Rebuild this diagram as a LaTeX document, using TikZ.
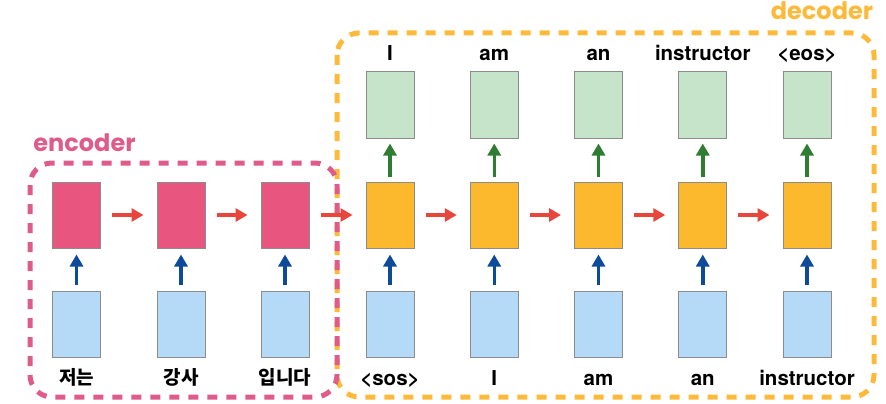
\documentclass[tikz,border=0pt]{standalone}
\usepackage{fontspec}
\setmainfont{TeX Gyre Heros}
\newfontfamily\krfont{Noto Sans CJK KR}
\newfontfamily\roundfont{Poppins}
\usetikzlibrary{arrows.meta}
\definecolor{encpink}{HTML}{E8567F}
\definecolor{encline}{HTML}{DE5B8A}
\definecolor{decorange}{HTML}{FDB92D}
\definecolor{decline}{HTML}{FDBA3A}
\definecolor{outgreen}{HTML}{C6E4CA}
\definecolor{inblue}{HTML}{B5DAF7}
\definecolor{arrblue}{HTML}{0D4A9A}
\definecolor{arrred}{HTML}{E8453C}
\definecolor{arrgreen}{HTML}{2E7D32}
\definecolor{boxgray}{HTML}{8C8C8C}
\begin{document}
\begin{tikzpicture}[x=1pt,y=-1pt,
  cell/.style={draw=boxgray, line width=1pt, minimum width=48pt, minimum height=66pt, inner sep=0pt},
  enccell/.style={cell, fill=encpink},
  deccell/.style={cell, fill=decorange},
  outcell/.style={cell, fill=outgreen},
  incell/.style={cell, fill=inblue},
  word/.style={font=\bfseries\fontsize{20.5}{22}\selectfont, inner sep=0pt, anchor=base},
  krword/.style={font=\krfont\bfseries\fontsize{19}{20}\selectfont, inner sep=0pt, anchor=base},
  tip/.style={-{Triangle[length=12pt,width=13pt]}, line width=3.5pt},
  uparr/.style={tip, draw=arrblue, shorten <=6pt, shorten >=6pt},
  grarr/.style={tip, draw=arrgreen, shorten <=5pt, shorten >=5pt},
  rarr/.style={tip, draw=arrred, shorten <=11pt, shorten >=13pt},
  group/.style={line width=5pt, rounded corners=22pt, dash pattern=on 10pt off 9pt},
  tag/.style={font=\roundfont\bfseries\fontsize{24}{26}\selectfont, inner sep=0pt}
]
\useasboundingbox (0,0) rectangle (886,404);

% group borders
\draw[group, draw=decline] (337,33) rectangle (874,397);
\draw[group, draw=encline] (30,163) rectangle (337,397);
\node[tag, text=encline] (enctag) at (84.5,143) {encoder};
\node[tag, text=decline] (dectag) at (822,11) {decoder};

% encoder
\foreach \i/\x/\w in {1/76.5/저는, 2/181/강사, 3/285/입니다} {
  \node[enccell] (e\i) at (\x,215) {};
  \node[incell] (ei\i) at (\x,324.5) {};
  \node[krword] (ew\i) at (\x,384) {\w};
  \draw[uparr] (ei\i) -- (e\i);
}
\draw[rarr] (e1) -- (e2);
\draw[rarr] (e2) -- (e3);

% decoder
\foreach \i/\x/\o/\n in {1/390/I/<sos>, 2/494.25/am/I, 3/598.5/an/am, 4/702.75/instructor/an, 5/807/<eos>/instructor} {
  \node[deccell] (d\i) at (\x,215) {};
  \node[outcell] (o\i) at (\x,105) {};
  \node[incell] (di\i) at (\x,324.5) {};
  \node[word] (ow\i) at (\x,61) {\o};
  \node[word] (dw\i) at (\x,385) {\n};
  \draw[uparr] (di\i) -- (d\i);
  \draw[grarr] (d\i) -- (o\i);
}
\draw[rarr] (e3) -- (d1);
\draw[rarr] (d1) -- (d2);
\draw[rarr] (d2) -- (d3);
\draw[rarr] (d3) -- (d4);
\draw[rarr] (d4) -- (d5);
\end{tikzpicture}
\end{document}
